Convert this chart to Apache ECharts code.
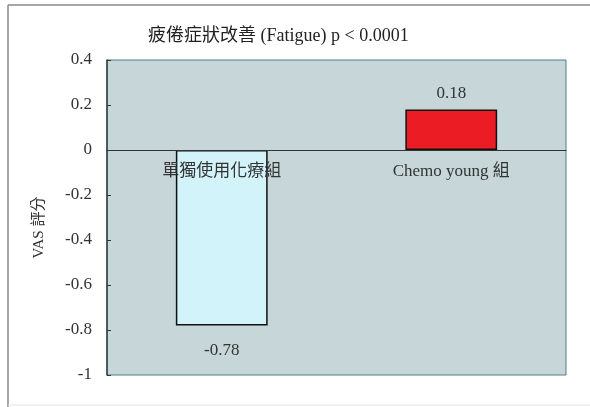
<!DOCTYPE html>
<html>
<head>
<meta charset="utf-8">
<script src="https://cdn.jsdelivr.net/npm/echarts@6/dist/echarts.min.js"></script>
<style>html,body{margin:0;padding:0;background:#fff;}#c{width:590px;height:407px;}</style>
</head>
<body>
<div id="c"></div>
<script>
const categories = ['單獨使用化療組', 'Chemo young 組'];
const values = [-0.78, 0.18];
const barColors = ['#d3f3fb', '#ec1c24'];
const titleText = '疲倦症狀改善 (Fatigue) p < 0.0001';
const yName = 'VAS 評分';

const FONT = '"Liberation Serif", "DejaVu Serif", "Noto Sans CJK TC", serif';
const GRID = { left: 107, right: 24, top: 60, bottom: 32 };
const chart = echarts.init(document.getElementById('c'));
chart.setOption({
  animation: false,
  backgroundColor: '#fff',
  title: {
    text: titleText, left: 143, top: 22,
    textStyle: { fontFamily: FONT, fontSize: 18, fontWeight: 'normal', color: '#222' }
  },
  grid: Object.assign({
    show: true, backgroundColor: '#c6d6d9', borderColor: '#4f7f84', borderWidth: 1
  }, GRID),
  graphic: [
    { type: 'line', shape: { x1: 8, y1: 5, x2: 590, y2: 5 }, style: { stroke: '#8a8a8a', lineWidth: 1.5 } },
    { type: 'line', shape: { x1: 8, y1: 5, x2: 8, y2: 407 }, style: { stroke: '#8a8a8a', lineWidth: 1.5 } },
    { type: 'line', shape: { x1: 8, y1: 405, x2: 590, y2: 405 }, style: { stroke: '#e3e3e3', lineWidth: 1 } }
  ],
  xAxis: {
    type: 'category', data: categories, z: 5,
    axisLine: { onZero: true, lineStyle: { color: '#333', width: 1.2 } },
    axisTick: { inside: true, length: 4, lineStyle: { color: '#333' } },
    axisLabel: { margin: 15, fontFamily: FONT, fontSize: 17, color: '#333' }
  },
  yAxis: {
    type: 'value', min: -1, max: 0.4, interval: 0.2,
    name: yName, nameLocation: 'middle', nameRotate: 90, nameGap: 60,
    nameTextStyle: { fontFamily: FONT, fontSize: 15, color: '#333', padding: [0, 20, 0, 0] },
    splitLine: { show: false },
    axisLine: { show: true, lineStyle: { color: '#2f3f40', width: 1.5 } },
    axisTick: { show: true, inside: true, length: 4, lineStyle: { color: '#333' } },
    axisLabel: { margin: 15, fontFamily: FONT, fontSize: 17, color: '#333' }
  },
  series: [{
    type: 'bar', barWidth: '40%',
    data: values.map((v, i) => ({
      value: v,
      itemStyle: { color: barColors[i], borderColor: '#111', borderWidth: 1.5 },
      label: { show: true, position: v < 0 ? 'bottom' : 'top', distance: v < 0 ? 17 : 7 }
    })),
    label: { fontFamily: FONT, fontSize: 17, color: '#333' }
  }]
});
// place category labels just below the zero line
const zeroY = chart.convertToPixel({ yAxisIndex: 0 }, 0);
const gridBottomY = 407 - GRID.bottom;
chart.setOption({ xAxis: { axisLabel: { margin: Math.round(zeroY - gridBottomY + 13) } } });
</script>
</body>
</html>
